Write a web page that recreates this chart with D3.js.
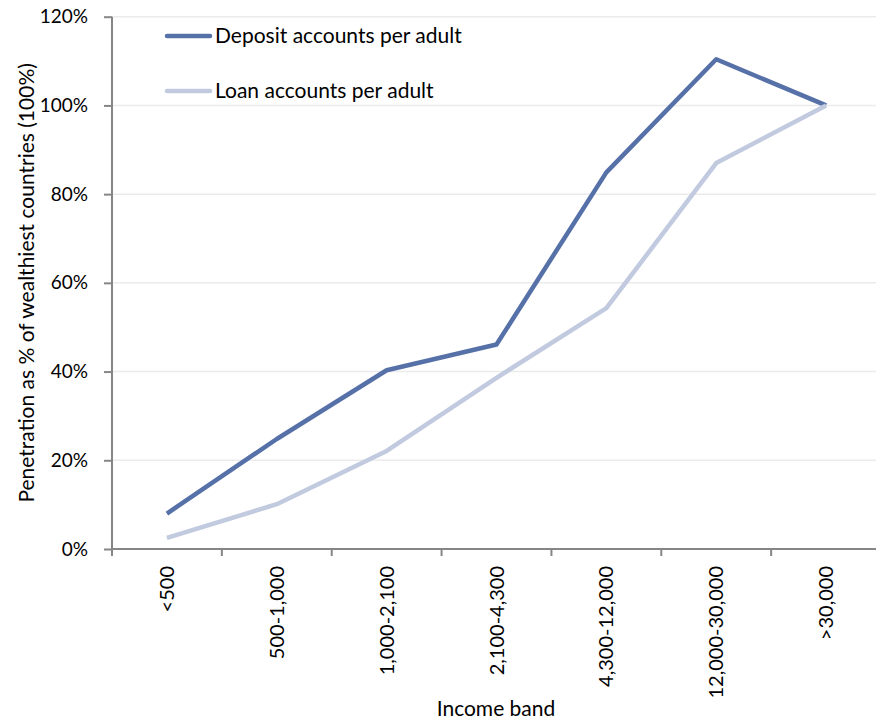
<!DOCTYPE html>
<html>
<head>
<meta charset="utf-8">
<script src="https://cdn.jsdelivr.net/npm/d3@7"></script>
<style>
  body { margin: 0; background: #fff; }
  svg { display: block; font-family: Lato, "Noto Sans", sans-serif; }
  .axis path, .axis line { stroke: #868686; stroke-width: 2; }
  .axis text { fill: #000; font-size: 19px; font-family: Lato, "Noto Sans", sans-serif; }
  .x.axis text { font-size: 20px; }
  .grid line { stroke: #ebebeb; stroke-width: 1.5; }
  .line { fill: none; stroke-width: 4.5; stroke-linejoin: round; }
</style>
</head>
<body>
<svg class="chart" width="876" height="720"></svg>
<script>
// income bands on x
var categories = ['<500', '500-1,000', '1,000-2,100', '2,100-4,300', '4,300-12,000', '12,000-30,000', '>30,000'];
// penetration, % of wealthiest countries
var deposit = [8.0, 24.8, 40.3, 46.1, 84.9, 110.4, 100.0];
var loan = [2.5, 10.1, 22.1, 38.6, 54.3, 87.0, 100.0];
var yTicks = [0, 20, 40, 60, 80, 100, 120];

var series = [
  {name: 'Deposit accounts per adult', values: deposit, color: '#5670a8'},
  {name: 'Loan accounts per adult', values: loan, color: '#c1cadf'}
];

var svg = d3.select('.chart');
var margin = {top: 16.7, left: 112, bottom: 171},
    width = 769, // last band runs a bit past the window edge
    height = 720 - margin.top - margin.bottom;

var g = svg.append('g')
    .attr('transform', 'translate(' + margin.left + ',' + margin.top + ')');

var xScale = d3.scaleBand()
    .domain(categories)
    .range([0, width]);

var yScale = d3.scaleLinear()
    .domain([0, 120])
    .range([height, 0]);

// gridlines
g.append('g')
    .attr('class', 'grid')
  .selectAll('line')
    .data(yTicks.slice(1))
  .enter().append('line')
    .attr('x1', 0)
    .attr('x2', width)
    .attr('y1', function(d) { return yScale(d); })
    .attr('y2', function(d) { return yScale(d); });

// y axis
var y_axis = d3.axisLeft(yScale)
    .tickValues(yTicks)
    .tickSize(8)
    .tickPadding(16)
    .tickFormat(function(d) { return d + '%'; });

g.append('g')
    .attr('class', 'y axis')
    .call(y_axis)
    .call(function(s) { s.select('.domain').attr('d', 'M0,0V' + height); });

// x axis, ticks at band edges
var x_axis = d3.axisBottom(xScale).tickSize(0).tickFormat('');
var xg = g.append('g')
    .attr('class', 'x axis')
    .attr('transform', 'translate(0,' + height + ')')
    .call(x_axis);
xg.select('.domain').attr('d', 'M0,0H' + width);

xg.selectAll('.edge')
    .data(categories)
  .enter().append('line')
    .attr('class', 'edge')
    .attr('x1', function(d) { return xScale(d); })
    .attr('x2', function(d) { return xScale(d); })
    .attr('y1', 0)
    .attr('y2', 7);

xg.selectAll('.lbl')
    .data(categories)
  .enter().append('text')
    .attr('class', 'lbl')
    .attr('text-anchor', 'end')
    .attr('dy', '0.35em')
    .attr('transform', function(d) {
      return 'translate(' + (xScale(d) + xScale.bandwidth() / 2) + ',17) rotate(-90)';
    })
    .text(function(d) { return d; });

// lines
var line = d3.line()
    .x(function(d, i) { return xScale(categories[i]) + xScale.bandwidth() / 2; })
    .y(function(d) { return yScale(d); });

g.selectAll('.line')
    .data(series)
  .enter().append('path')
    .attr('class', 'line')
    .attr('stroke', function(d) { return d.color; })
    .attr('d', function(d) { return line(d.values); });

// legend
var legend = svg.selectAll('.legend')
    .data(series)
  .enter().append('g')
    .attr('class', 'legend')
    .attr('transform', function(d, i) { return 'translate(167,' + (36 + i * 55) + ')'; });

legend.append('line')
    .attr('x1', 0)
    .attr('x2', 43)
    .attr('stroke', function(d) { return d.color; })
    .attr('stroke-width', 4.5)
    .attr('stroke-linecap', 'round');

legend.append('text')
    .attr('x', 48)
    .attr('dy', '0.35em')
    .style('font-size', '21px')
    .text(function(d) { return d.name; });

// axis titles
svg.append('text')
    .attr('transform', 'translate(34,' + (margin.top + height / 2) + ') rotate(-90)')
    .attr('text-anchor', 'middle')
    .style('font-size', '21px')
    .text('Penetration as % of wealthiest countries (100%)');

svg.append('text')
    .attr('x', 496)
    .attr('y', 716)
    .attr('text-anchor', 'middle')
    .style('font-size', '21px')
    .text('Income band');
</script>
</body>
</html>
